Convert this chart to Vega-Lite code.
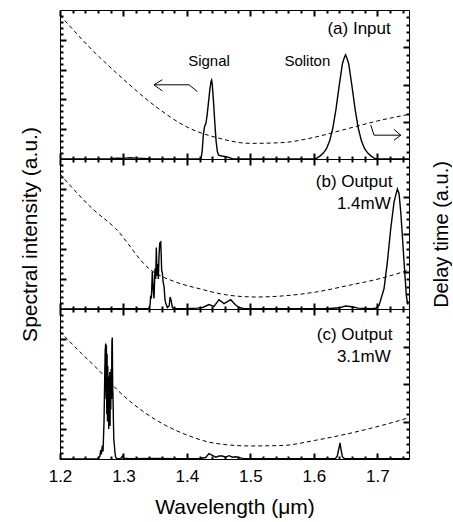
{
  "$schema": "https://vega.github.io/schema/vega-lite/v6.json",
  "padding": {"left": 18, "top": 8, "right": 0, "bottom": 0},
  "spacing": 0,
  "bounds": "flush",
  "config": {
    "font": "Liberation Sans",
    "view": {"stroke": "black", "strokeWidth": 1},
    "axis": {"domain": false, "grid": false, "ticks": true, "labelColor": "black", "titleColor": "black", "titleFontWeight": "normal", "labelFontSize": 17, "titleFontSize": 21, "tickWidth": 2, "minExtent": 0, "labelFlush": false, "zindex": 1},
    "line": {"color": "black"},
    "text": {"color": "black"}
  },
  "datasets": {
    "specA": [
      {"lam":1.2,"h":0},{"lam":1.25,"h":0.001},{"lam":1.28,"h":0.002},{"lam":1.29,"h":0.006},{"lam":1.3,"h":0.004},{"lam":1.31,"h":0.008},{"lam":1.32,"h":0.006},{"lam":1.33,"h":0.004},{"lam":1.34,"h":0.002},{"lam":1.36,"h":0},{"lam":1.4,"h":0.001},{"lam":1.422,"h":0},{"lam":1.424,"h":0.05},{"lam":1.426,"h":0.17},{"lam":1.428,"h":0.22},{"lam":1.43,"h":0.24},{"lam":1.432,"h":0.3},{"lam":1.434,"h":0.38},{"lam":1.436,"h":0.46},{"lam":1.438,"h":0.52},{"lam":1.439,"h":0.53},{"lam":1.44,"h":0.5},{"lam":1.442,"h":0.38},{"lam":1.444,"h":0.24},{"lam":1.446,"h":0.12},{"lam":1.448,"h":0.05},{"lam":1.45,"h":0.025},{"lam":1.455,"h":0.02},{"lam":1.462,"h":0.015},{"lam":1.468,"h":0.008},{"lam":1.472,"h":0},{"lam":1.55,"h":0.001},{"lam":1.6,"h":0},{"lam":1.605,"h":0.006},{"lam":1.61,"h":0.021},{"lam":1.615,"h":0.04},{"lam":1.62,"h":0.069},{"lam":1.625,"h":0.122},{"lam":1.63,"h":0.208},{"lam":1.635,"h":0.336},{"lam":1.64,"h":0.493},{"lam":1.645,"h":0.639},{"lam":1.648,"h":0.68},{"lam":1.65,"h":0.7},{"lam":1.652,"h":0.68},{"lam":1.655,"h":0.639},{"lam":1.66,"h":0.493},{"lam":1.665,"h":0.336},{"lam":1.67,"h":0.208},{"lam":1.675,"h":0.122},{"lam":1.68,"h":0.069},{"lam":1.685,"h":0.04},{"lam":1.69,"h":0.021},{"lam":1.695,"h":0.006},{"lam":1.7,"h":0},{"lam":1.75,"h":0}
    ],
    "specB": [
      {"lam":1.2,"h":0.001},{"lam":1.3,"h":0.002},{"lam":1.3403,"h":0.002},{"lam":1.342,"h":0.03},{"lam":1.3429,"h":0.09},{"lam":1.344,"h":0.07},{"lam":1.3455,"h":0.25},{"lam":1.347,"h":0.12},{"lam":1.3482,"h":0.07},{"lam":1.3497,"h":0.27},{"lam":1.3508,"h":0.2},{"lam":1.3518,"h":0.41},{"lam":1.3526,"h":0.28},{"lam":1.3534,"h":0.22},{"lam":1.3542,"h":0.3},{"lam":1.355,"h":0.2},{"lam":1.356,"h":0.35},{"lam":1.3572,"h":0.44},{"lam":1.3587,"h":0.447},{"lam":1.3595,"h":0.36},{"lam":1.3602,"h":0.26},{"lam":1.3613,"h":0.24},{"lam":1.3625,"h":0.18},{"lam":1.364,"h":0.15},{"lam":1.3655,"h":0.06},{"lam":1.3666,"h":0.04},{"lam":1.3692,"h":0.01},{"lam":1.372,"h":0.02},{"lam":1.3735,"h":0.08},{"lam":1.375,"h":0.06},{"lam":1.3771,"h":0.01},{"lam":1.3797,"h":0.002},{"lam":1.4,"h":0.002},{"lam":1.4164,"h":0.006},{"lam":1.425,"h":0.01},{"lam":1.4348,"h":0.03},{"lam":1.4427,"h":0.018},{"lam":1.4506,"h":0.062},{"lam":1.4585,"h":0.036},{"lam":1.469,"h":0.062},{"lam":1.476,"h":0.03},{"lam":1.4821,"h":0.01},{"lam":1.49,"h":0.002},{"lam":1.62,"h":0.002},{"lam":1.64,"h":0.008},{"lam":1.65,"h":0.02},{"lam":1.66,"h":0.015},{"lam":1.67,"h":0.006},{"lam":1.69,"h":0.002},{"lam":1.6975,"h":0.005},{"lam":1.7028,"h":0.024},{"lam":1.7106,"h":0.135},{"lam":1.7159,"h":0.313},{"lam":1.7212,"h":0.535},{"lam":1.7264,"h":0.713},{"lam":1.7316,"h":0.8},{"lam":1.7343,"h":0.77},{"lam":1.737,"h":0.647},{"lam":1.7395,"h":0.49},{"lam":1.7422,"h":0.313},{"lam":1.7458,"h":0.091},{"lam":1.748,"h":0.03}
    ],
    "specC": [
      {"lam":1.2,"h":0.001},{"lam":1.26,"h":0.002},{"lam":1.263,"h":0.02},{"lam":1.2641,"h":0.06},{"lam":1.2652,"h":0.03},{"lam":1.2667,"h":0.09},{"lam":1.2678,"h":0.05},{"lam":1.2694,"h":0.25},{"lam":1.2705,"h":0.55},{"lam":1.2712,"h":0.72},{"lam":1.272,"h":0.77},{"lam":1.2726,"h":0.4},{"lam":1.2731,"h":0.76},{"lam":1.2737,"h":0.3},{"lam":1.2742,"h":0.7},{"lam":1.2748,"h":0.25},{"lam":1.2753,"h":0.62},{"lam":1.2758,"h":0.35},{"lam":1.2763,"h":0.55},{"lam":1.2768,"h":0.2},{"lam":1.2773,"h":0.5},{"lam":1.2778,"h":0.28},{"lam":1.2784,"h":0.58},{"lam":1.2789,"h":0.22},{"lam":1.2794,"h":0.52},{"lam":1.28,"h":0.33},{"lam":1.2806,"h":0.6},{"lam":1.2812,"h":0.4},{"lam":1.2818,"h":0.78},{"lam":1.2824,"h":0.81},{"lam":1.283,"h":0.5},{"lam":1.2836,"h":0.4},{"lam":1.2842,"h":0.25},{"lam":1.2848,"h":0.13},{"lam":1.2857,"h":0.09},{"lam":1.2867,"h":0.04},{"lam":1.2878,"h":0.01},{"lam":1.29,"h":0.002},{"lam":1.296,"h":0.004},{"lam":1.2985,"h":0.02},{"lam":1.3,"h":0.005},{"lam":1.31,"h":0.002},{"lam":1.35,"h":0.003},{"lam":1.38,"h":0.002},{"lam":1.42,"h":0.003},{"lam":1.4296,"h":0.01},{"lam":1.4348,"h":0.036},{"lam":1.44,"h":0.025},{"lam":1.4454,"h":0.012},{"lam":1.4507,"h":0.02},{"lam":1.4559,"h":0.02},{"lam":1.461,"h":0.012},{"lam":1.4664,"h":0.022},{"lam":1.4717,"h":0.012},{"lam":1.4769,"h":0.015},{"lam":1.4874,"h":0.004},{"lam":1.5,"h":0.002},{"lam":1.6,"h":0.002},{"lam":1.634,"h":0.003},{"lam":1.637,"h":0.02},{"lam":1.6395,"h":0.07},{"lam":1.6413,"h":0.107},{"lam":1.643,"h":0.06},{"lam":1.645,"h":0.015},{"lam":1.648,"h":0.003},{"lam":1.75,"h":0.002}
    ],
    "delayA": [
      {"lam":1.2,"d":0.965},{"lam":1.25,"d":0.735},{"lam":1.3,"d":0.535},{"lam":1.35,"d":0.355},{"lam":1.4,"d":0.215},{"lam":1.45,"d":0.14},{"lam":1.5,"d":0.105},{"lam":1.55,"d":0.11},{"lam":1.6,"d":0.145},{"lam":1.65,"d":0.2},{"lam":1.7,"d":0.255},{"lam":1.75,"d":0.3}
    ],
    "delayB": [
      {"lam":1.2,"d":0.9},{"lam":1.251,"d":0.669},{"lam":1.2877,"d":0.536},{"lam":1.3403,"d":0.269},{"lam":1.3823,"d":0.18},{"lam":1.4191,"d":0.136},{"lam":1.4611,"d":0.095},{"lam":1.5084,"d":0.08},{"lam":1.5504,"d":0.087},{"lam":1.6029,"d":0.113},{"lam":1.6555,"d":0.158},{"lam":1.708,"d":0.207},{"lam":1.75,"d":0.26}
    ],
    "delayC": [
      {"lam":1.2,"d":0.85},{"lam":1.23,"d":0.72},{"lam":1.2615,"d":0.59},{"lam":1.293,"d":0.45},{"lam":1.33,"d":0.32},{"lam":1.3666,"d":0.224},{"lam":1.4,"d":0.16},{"lam":1.4454,"d":0.104},{"lam":1.5,"d":0.087},{"lam":1.55,"d":0.09},{"lam":1.6029,"d":0.125},{"lam":1.6555,"d":0.17},{"lam":1.708,"d":0.225},{"lam":1.75,"d":0.275}
    ],
    "arrowsA": [
      {"seg":"left shaft","idx":0,"lam":1.4164,"h":0.453},{"seg":"left shaft","idx":1,"lam":1.4033,"h":0.498},{"seg":"left shaft","idx":2,"lam":1.3481,"h":0.498},
      {"seg":"left head","idx":0,"lam":1.3612,"h":0.532},{"seg":"left head","idx":1,"lam":1.3481,"h":0.498},{"seg":"left head","idx":2,"lam":1.3612,"h":0.457},
      {"seg":"right shaft","idx":0,"lam":1.6897,"h":0.228},{"seg":"right shaft","idx":1,"lam":1.6949,"h":0.16},{"seg":"right shaft","idx":2,"lam":1.737,"h":0.16},
      {"seg":"right head","idx":0,"lam":1.7264,"h":0.198},{"seg":"right head","idx":1,"lam":1.737,"h":0.16},{"seg":"right head","idx":2,"lam":1.7264,"h":0.126}
    ],
    "titleA": [{"lam":1.7212,"h":0.87,"label":"(a) Input"}],
    "peaksA": [{"lam":1.4348,"h":0.655,"label":"Signal"},{"lam":1.5898,"h":0.655,"label":"Soliton"}],
    "titleB": [{"lam":1.7238,"h":0.847,"label":"(b) Output"}],
    "powerB": [{"lam":1.7212,"h":0.702,"label":"1.4mW"}],
    "titleC": [{"lam":1.7238,"h":0.825,"label":"(c) Output"}],
    "powerC": [{"lam":1.7212,"h":0.68,"label":"3.1mW"}]
  },
  "vconcat": [
    {
      "width": 349, "height": 149,
      "layer": [
        {"data": {"name": "specA"}, "mark": {"type": "line", "strokeWidth": 1.4, "color": "black"},
         "encoding": {
           "x": {"field": "lam", "type": "quantitative", "scale": {"domain": [1.2, 1.75], "nice": false, "zero": false}, "axis": {"orient": "bottom", "values": [1.2,1.3,1.4,1.5,1.6,1.7], "tickSize": -6, "tickColor": "black", "labels": false, "title": null}},
           "y": {"field": "h", "type": "quantitative", "scale": {"domain": [0, 1], "nice": false}, "axis": {"orient": "left", "values": [0.2,0.4,0.6,0.8], "tickSize": -6, "tickColor": "black", "labels": false, "title": null}}}},
        {"data": {"name": "delayA"}, "mark": {"type": "line", "strokeWidth": 1, "strokeDash": [4, 3], "color": "black", "interpolate": "monotone"},
         "encoding": {
           "x": {"field": "lam", "type": "quantitative", "scale": {"domain": [1.2, 1.75], "nice": false, "zero": false}, "axis": {"orient": "top", "values": [1.2,1.3,1.4,1.5,1.6,1.7], "tickSize": -6, "tickColor": "black", "labels": false, "title": null}},
           "y": {"field": "d", "type": "quantitative", "scale": {"domain": [0, 1], "nice": false}, "axis": {"orient": "right", "values": [0.25,0.5,0.75], "tickSize": -6, "tickColor": "black", "labels": false, "title": null}}}},
        {"data": {"name": "titleA"}, "mark": {"type": "text", "align": "right", "baseline": "middle", "fontSize": 17},
         "encoding": {
           "x": {"field": "lam", "type": "quantitative", "scale": {"domain": [1.2, 1.75], "nice": false, "zero": false}, "axis": {"orient": "bottom", "values": [1.22,1.24,1.26,1.28,1.32,1.34,1.36,1.38,1.42,1.44,1.46,1.48,1.52,1.54,1.56,1.58,1.62,1.64,1.66,1.68,1.72,1.74], "tickSize": -3, "tickColor": "black", "labels": false, "title": null}},
           "y": {"field": "h", "type": "quantitative", "scale": {"domain": [0, 1], "nice": false}, "axis": {"orient": "left", "values": [0.04,0.08,0.12,0.16,0.24,0.28,0.32,0.36,0.44,0.48,0.52,0.56,0.64,0.68,0.72,0.76,0.84,0.88,0.92,0.96], "tickSize": -3, "tickColor": "black", "labels": false, "title": null}},
           "text": {"field": "label"}}},
        {"data": {"name": "peaksA"}, "mark": {"type": "text", "align": "center", "baseline": "middle", "fontSize": 15},
         "encoding": {
           "x": {"field": "lam", "type": "quantitative", "scale": {"domain": [1.2, 1.75], "nice": false, "zero": false}, "axis": {"orient": "top", "values": [1.22,1.24,1.26,1.28,1.32,1.34,1.36,1.38,1.42,1.44,1.46,1.48,1.52,1.54,1.56,1.58,1.62,1.64,1.66,1.68,1.72,1.74], "tickSize": -3, "tickColor": "black", "labels": false, "title": null}},
           "y": {"field": "h", "type": "quantitative", "scale": {"domain": [0, 1], "nice": false}, "axis": {"orient": "right", "values": [0.05,0.1,0.15,0.2,0.3,0.35,0.4,0.45,0.55,0.6,0.65,0.7,0.8,0.85,0.9,0.95], "tickSize": -3, "tickColor": "black", "labels": false, "title": null}},
           "text": {"field": "label"}}},
        {"data": {"name": "arrowsA"}, "mark": {"type": "line", "strokeWidth": 1, "color": "black"},
         "encoding": {
           "x": {"field": "lam", "type": "quantitative", "scale": {"domain": [1.2, 1.75], "nice": false, "zero": false}, "axis": null},
           "y": {"field": "h", "type": "quantitative", "scale": {"domain": [0, 1], "nice": false}, "axis": null},
           "detail": {"field": "seg"},
           "order": {"field": "idx"}}}
      ],
      "resolve": {"scale": {"y": "independent"}, "axis": {"x": "independent", "y": "independent"}}
    },
    {
      "width": 349, "height": 150,
      "layer": [
        {"data": {"name": "specB"}, "mark": {"type": "line", "strokeWidth": 1.4, "color": "black"},
         "encoding": {
           "x": {"field": "lam", "type": "quantitative", "scale": {"domain": [1.2, 1.75], "nice": false, "zero": false}, "axis": {"orient": "bottom", "values": [1.2,1.3,1.4,1.5,1.6,1.7], "tickSize": -6, "tickColor": "black", "labels": false, "title": null}},
           "y": {"field": "h", "type": "quantitative", "scale": {"domain": [0, 1], "nice": false}, "axis": {"orient": "left", "values": [0.2,0.4,0.6,0.8], "tickSize": -6, "tickColor": "black", "labels": false, "title": "Spectral intensity (a.u.)", "titlePadding": 19}}}},
        {"data": {"name": "delayB"}, "mark": {"type": "line", "strokeWidth": 1, "strokeDash": [4, 3], "color": "black", "interpolate": "monotone"},
         "encoding": {
           "x": {"field": "lam", "type": "quantitative", "scale": {"domain": [1.2, 1.75], "nice": false, "zero": false}, "axis": {"orient": "top", "values": [1.2,1.3,1.4,1.5,1.6,1.7], "tickSize": -6, "tickColor": "black", "labels": false, "title": null}},
           "y": {"field": "d", "type": "quantitative", "scale": {"domain": [0, 1], "nice": false}, "axis": {"orient": "right", "values": [0.25,0.5,0.75], "tickSize": -6, "tickColor": "black", "labels": false, "title": "Delay time (a.u.)", "titleAngle": 270, "titleBaseline": "top", "titlePadding": 21, "titleFontSize": 20}}}},
        {"data": {"name": "titleB"}, "mark": {"type": "text", "align": "right", "baseline": "middle", "fontSize": 17},
         "encoding": {
           "x": {"field": "lam", "type": "quantitative", "scale": {"domain": [1.2, 1.75], "nice": false, "zero": false}, "axis": {"orient": "bottom", "values": [1.22,1.24,1.26,1.28,1.32,1.34,1.36,1.38,1.42,1.44,1.46,1.48,1.52,1.54,1.56,1.58,1.62,1.64,1.66,1.68,1.72,1.74], "tickSize": -3, "tickColor": "black", "labels": false, "title": null}},
           "y": {"field": "h", "type": "quantitative", "scale": {"domain": [0, 1], "nice": false}, "axis": {"orient": "left", "values": [0.04,0.08,0.12,0.16,0.24,0.28,0.32,0.36,0.44,0.48,0.52,0.56,0.64,0.68,0.72,0.76,0.84,0.88,0.92,0.96], "tickSize": -3, "tickColor": "black", "labels": false, "title": null}},
           "text": {"field": "label"}}},
        {"data": {"name": "powerB"}, "mark": {"type": "text", "align": "right", "baseline": "middle", "fontSize": 17},
         "encoding": {
           "x": {"field": "lam", "type": "quantitative", "scale": {"domain": [1.2, 1.75], "nice": false, "zero": false}, "axis": {"orient": "top", "values": [1.22,1.24,1.26,1.28,1.32,1.34,1.36,1.38,1.42,1.44,1.46,1.48,1.52,1.54,1.56,1.58,1.62,1.64,1.66,1.68,1.72,1.74], "tickSize": -3, "tickColor": "black", "labels": false, "title": null}},
           "y": {"field": "h", "type": "quantitative", "scale": {"domain": [0, 1], "nice": false}, "axis": {"orient": "right", "values": [0.05,0.1,0.15,0.2,0.3,0.35,0.4,0.45,0.55,0.6,0.65,0.7,0.8,0.85,0.9,0.95], "tickSize": -3, "tickColor": "black", "labels": false, "title": null}},
           "text": {"field": "label"}}}
      ],
      "resolve": {"scale": {"y": "independent"}, "axis": {"x": "independent", "y": "independent"}}
    },
    {
      "width": 349, "height": 150,
      "layer": [
        {"data": {"name": "specC"}, "mark": {"type": "line", "strokeWidth": 1.4, "color": "black"},
         "encoding": {
           "x": {"field": "lam", "type": "quantitative", "scale": {"domain": [1.2, 1.75], "nice": false, "zero": false}, "axis": {"orient": "bottom", "values": [1.2,1.3,1.4,1.5,1.6,1.7], "format": ".1f", "tickSize": -6, "tickColor": "black", "labels": true, "labelPadding": 15, "title": "Wavelength (μm)", "titlePadding": 12}},
           "y": {"field": "h", "type": "quantitative", "scale": {"domain": [0, 1], "nice": false}, "axis": {"orient": "left", "values": [0.2,0.4,0.6,0.8], "tickSize": -6, "tickColor": "black", "labels": false, "title": null}}}},
        {"data": {"name": "delayC"}, "mark": {"type": "line", "strokeWidth": 1, "strokeDash": [4, 3], "color": "black", "interpolate": "monotone"},
         "encoding": {
           "x": {"field": "lam", "type": "quantitative", "scale": {"domain": [1.2, 1.75], "nice": false, "zero": false}, "axis": {"orient": "top", "values": [1.2,1.3,1.4,1.5,1.6,1.7], "tickSize": -6, "tickColor": "black", "labels": false, "title": null}},
           "y": {"field": "d", "type": "quantitative", "scale": {"domain": [0, 1], "nice": false}, "axis": {"orient": "right", "values": [0.25,0.5,0.75], "tickSize": -6, "tickColor": "black", "labels": false, "title": null}}}},
        {"data": {"name": "titleC"}, "mark": {"type": "text", "align": "right", "baseline": "middle", "fontSize": 17},
         "encoding": {
           "x": {"field": "lam", "type": "quantitative", "scale": {"domain": [1.2, 1.75], "nice": false, "zero": false}, "axis": {"orient": "bottom", "values": [1.22,1.24,1.26,1.28,1.32,1.34,1.36,1.38,1.42,1.44,1.46,1.48,1.52,1.54,1.56,1.58,1.62,1.64,1.66,1.68,1.72,1.74], "tickSize": -3, "tickColor": "black", "labels": false, "title": null}},
           "y": {"field": "h", "type": "quantitative", "scale": {"domain": [0, 1], "nice": false}, "axis": {"orient": "left", "values": [0.04,0.08,0.12,0.16,0.24,0.28,0.32,0.36,0.44,0.48,0.52,0.56,0.64,0.68,0.72,0.76,0.84,0.88,0.92,0.96], "tickSize": -3, "tickColor": "black", "labels": false, "title": null}},
           "text": {"field": "label"}}},
        {"data": {"name": "powerC"}, "mark": {"type": "text", "align": "right", "baseline": "middle", "fontSize": 17},
         "encoding": {
           "x": {"field": "lam", "type": "quantitative", "scale": {"domain": [1.2, 1.75], "nice": false, "zero": false}, "axis": {"orient": "top", "values": [1.22,1.24,1.26,1.28,1.32,1.34,1.36,1.38,1.42,1.44,1.46,1.48,1.52,1.54,1.56,1.58,1.62,1.64,1.66,1.68,1.72,1.74], "tickSize": -3, "tickColor": "black", "labels": false, "title": null}},
           "y": {"field": "h", "type": "quantitative", "scale": {"domain": [0, 1], "nice": false}, "axis": {"orient": "right", "values": [0.05,0.1,0.15,0.2,0.3,0.35,0.4,0.45,0.55,0.6,0.65,0.7,0.8,0.85,0.9,0.95], "tickSize": -3, "tickColor": "black", "labels": false, "title": null}},
           "text": {"field": "label"}}}
      ],
      "resolve": {"scale": {"y": "independent"}, "axis": {"x": "independent", "y": "independent"}}
    }
  ]
}
